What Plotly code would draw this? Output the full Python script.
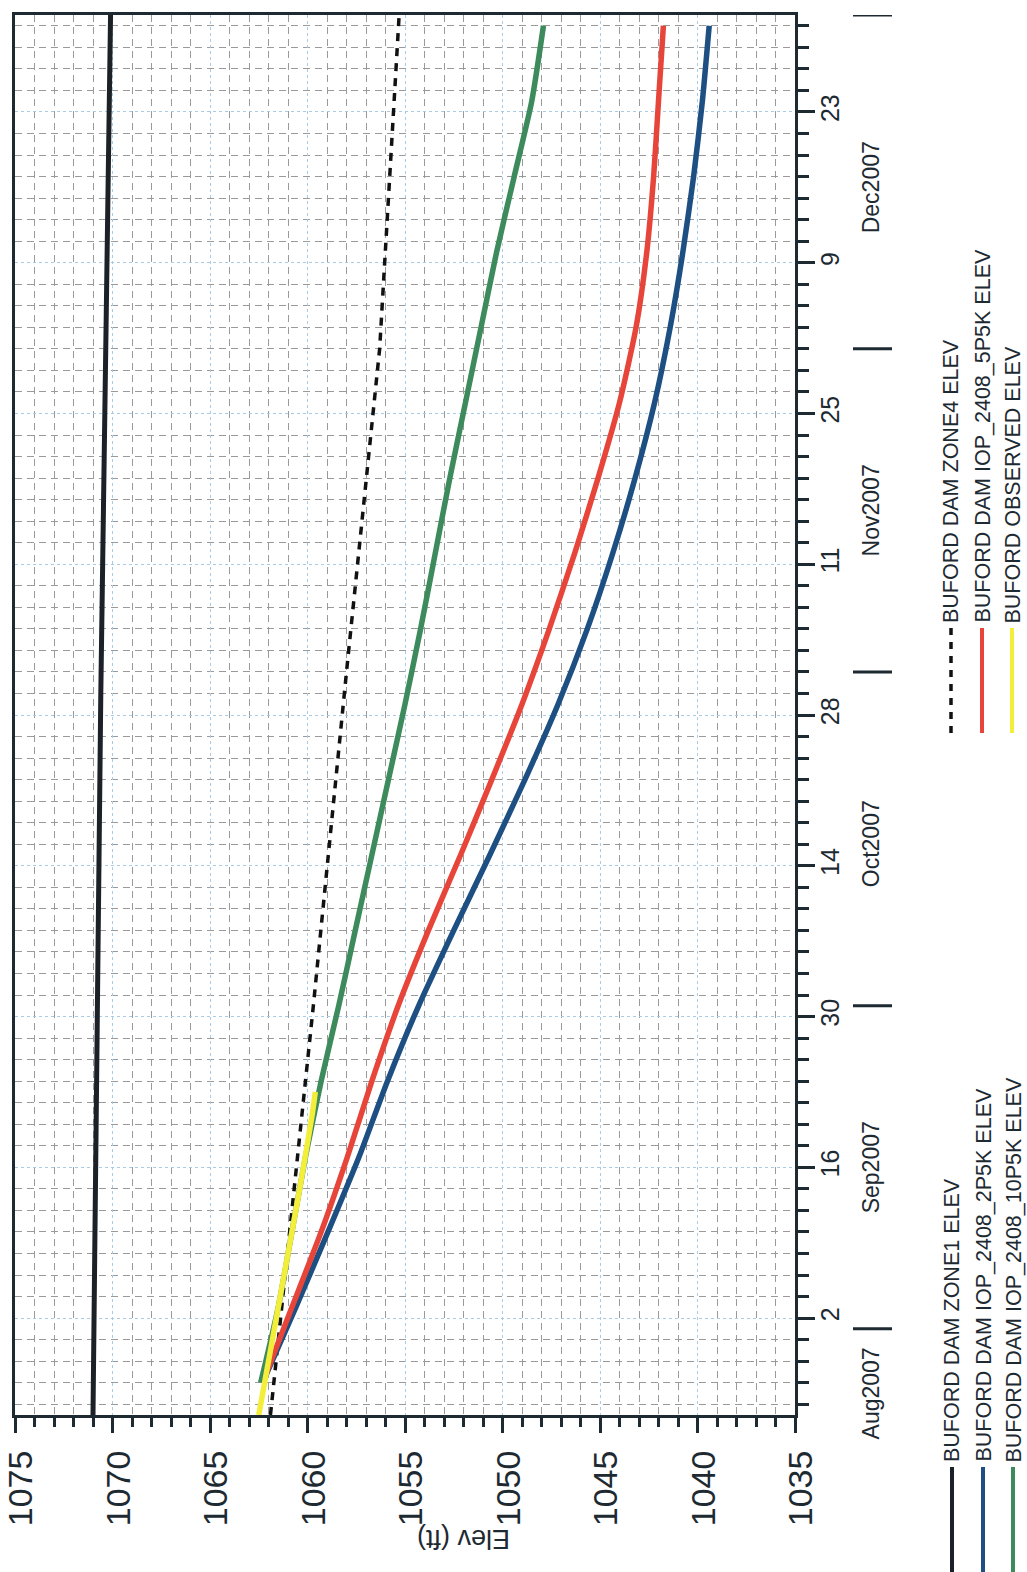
import plotly.graph_objects as go

# ---- Buford Dam pool elevation, Aug 2007 - Jan 2008 ----

# Weekly simulated elevations (ft) for the three IOP_2408 alternatives
sim_dates = [
    "2007-08-27", "2007-09-03", "2007-09-10", "2007-09-17", "2007-09-24",
    "2007-10-01", "2007-10-08", "2007-10-15", "2007-10-22", "2007-10-29",
    "2007-11-05", "2007-11-12", "2007-11-19", "2007-11-26", "2007-12-03",
    "2007-12-10", "2007-12-17", "2007-12-24", "2007-12-31",
]
elev_2p5k = [
    1062.3, 1060.6, 1058.95, 1057.35, 1055.9,
    1054.3, 1052.5, 1050.65, 1048.85, 1047.15,
    1045.65, 1044.35, 1043.2, 1042.2, 1041.4,
    1040.75, 1040.2, 1039.75, 1039.4,
]
elev_5p5k = [
    1062.3, 1060.8, 1059.3, 1057.95, 1056.7,
    1055.35, 1053.8, 1052.15, 1050.55, 1049.0,
    1047.6, 1046.3, 1045.1, 1044.0, 1043.15,
    1042.6, 1042.25, 1042.0, 1041.75,
]
elev_10p5k = [
    1062.4, 1061.5, 1060.8, 1060.1, 1059.3,
    1058.4, 1057.55, 1056.7, 1055.85, 1055.0,
    1054.2, 1053.45, 1052.7, 1051.9, 1051.1,
    1050.3, 1049.4, 1048.5, 1047.9,
]

# Guide curves
zone1_dates = ["2007-08-24", "2007-10-30", "2008-01-01"]
zone1_elev = [1071.0, 1070.6, 1070.1]

zone4_dates = ["2007-08-24", "2007-10-01", "2007-11-01", "2007-12-01", "2008-01-01"]
zone4_elev = [1061.9, 1059.7, 1058.0, 1056.3, 1055.3]

# Observed pool
obs_dates = ["2007-08-24", "2007-08-31", "2007-09-07", "2007-09-14", "2007-09-21", "2007-09-23"]
obs_elev = [1062.5, 1061.8, 1061.1, 1060.4, 1059.75, 1059.6]

# Axis labelling
elev_range = [1075, 1035]
date_range = ["2007-08-24", "2008-01-01"]
month_labels = ["Aug2007", "Sep2007", "Oct2007", "Nov2007", "Dec2007"]
month_label_dates = ["2007-08-26", "2007-09-16", "2007-10-16", "2007-11-16", "2007-12-16"]
month_breaks = ["2007-09-01", "2007-10-01", "2007-11-01", "2007-12-01", "2008-01-01"]

legend_left = [
    ("BUFORD DAM ZONE1 ELEV", "#1b2126", "solid"),
    ("BUFORD DAM IOP_2408_2P5K ELEV", "#1d4f82", "solid"),
    ("BUFORD DAM IOP_2408_10P5K ELEV", "#3d8a5c", "solid"),
]
legend_right = [
    ("BUFORD DAM ZONE4 ELEV", "#111111", "dash"),
    ("BUFORD DAM IOP_2408_5P5K ELEV", "#e8453a", "solid"),
    ("BUFORD OBSERVED ELEV", "#f3ee3a", "solid"),
]

FONT = "Arial, Liberation Sans, sans-serif"
INK = "#1e2a32"
W, H = 1027, 1572
ML, MR, MT, MB = 15, 232, 15, 157
PW, PH = W - ML - MR, H - MT - MB


def px(xp):
    return (xp - ML) / PW


def py(yp):
    return (H - MB - yp) / PH


fig = go.Figure()

fig.add_trace(go.Scatter(x=zone1_elev, y=zone1_dates, mode="lines",
                         line=dict(color="#1b2126", width=5)))
fig.add_trace(go.Scatter(x=zone4_elev, y=zone4_dates, mode="lines",
                         line=dict(color="#111111", width=3.5, dash="8px,7px")))
fig.add_trace(go.Scatter(x=elev_2p5k, y=sim_dates, mode="lines",
                         line=dict(color="#1d4f82", width=5.5, shape="spline", smoothing=0.6)))
fig.add_trace(go.Scatter(x=elev_5p5k, y=sim_dates, mode="lines",
                         line=dict(color="#e8453a", width=5.5, shape="spline", smoothing=0.6)))
fig.add_trace(go.Scatter(x=elev_10p5k, y=sim_dates, mode="lines",
                         line=dict(color="#3d8a5c", width=5.5, shape="spline", smoothing=0.6)))
fig.add_trace(go.Scatter(x=obs_elev, y=obs_dates, mode="lines",
                         line=dict(color="#f3ee3a", width=5.5, shape="spline", smoothing=0.6)))

DAY = 86400000

fig.update_xaxes(
    range=elev_range, tick0=1035, dtick=5, tickangle=-90, automargin=False,
    ticks="outside", ticklen=15, tickwidth=3, tickcolor=INK,
    ticklabelstandoff=4, ticklabelshift=-6, ticklabeloverflow="allow",
    tickfont=dict(family=FONT, size=34, color=INK),
    showline=True, linewidth=3, linecolor=INK, mirror=True,
    showgrid=True, gridcolor="#a9cbe6", gridwidth=1, griddash="dot",
    zeroline=False,
    minor=dict(dtick=1, ticks="outside", ticklen=9, tickwidth=3, tickcolor=INK,
               showgrid=True, gridcolor="#9a9a9a", gridwidth=1, griddash="7px,5px"),
)
fig.update_yaxes(
    type="date", side="right", range=date_range, automargin=False,
    tick0="2007-09-02", dtick=14 * DAY, tickformat="%-d", tickangle=-90,
    ticks="outside", ticklen=17, tickwidth=3, tickcolor=INK,
    ticklabelstandoff=-6, ticklabeloverflow="allow",
    tickfont=dict(family=FONT, size=25, color=INK),
    showline=True, linewidth=3, linecolor=INK, mirror=True,
    showgrid=True, gridcolor="#a9cbe6", gridwidth=1, griddash="dot",
    zeroline=False,
    minor=dict(tick0="2007-09-02", dtick=2 * DAY, ticks="outside", ticklen=11,
               tickwidth=3, tickcolor=INK,
               showgrid=True, gridcolor="#9a9a9a", gridwidth=1, griddash="7px,5px"),
)

shapes = []
annotations = []

# month separators and month/year labels beside the date axis
for d in month_breaks:
    shapes.append(dict(type="line", xref="paper", yref="y",
                       x0=px(853), x1=px(892), y0=d, y1=d,
                       line=dict(color=INK, width=3)))
for lab, d in zip(month_labels, month_label_dates):
    annotations.append(dict(text=lab, xref="paper", yref="y", x=px(871), y=d,
                            textangle=-90, showarrow=False, xanchor="center", yanchor="middle",
                            font=dict(family=FONT, size=23, color=INK)))

# axis title
annotations.append(dict(text="Elev (ft)", xref="paper", yref="paper", x=px(463), y=py(1539),
                        textangle=180, showarrow=False, xanchor="center", yanchor="middle",
                        font=dict(family=FONT, size=27, color=INK)))

# legend drawn beneath the date axis, rotated with the chart
def legend_column(entries, xs, line_top, line_bottom):
    for (name, color, dash), xc in zip(entries, xs):
        shapes.append(dict(type="line", xref="paper", yref="paper",
                           x0=px(xc), x1=px(xc), y0=py(line_top), y1=py(line_bottom),
                           line=dict(color=color, width=4 if dash == "solid" else 3.5,
                                     dash="7px,7px" if dash == "dash" else "solid")))
        annotations.append(dict(text=name, xref="paper", yref="paper",
                                x=px(xc), y=py(line_top - 3),
                                textangle=-90, showarrow=False,
                                xanchor="center", yanchor="bottom",
                                font=dict(family=FONT, size=21.5, color=INK)))


legend_column(legend_left, [952, 983, 1013], 1467, 1590)
legend_column(legend_right, [951, 982, 1012], 628, 733)

fig.update_layout(
    width=W, height=H,
    margin=dict(l=ML, r=MR, t=MT, b=MB),
    paper_bgcolor="white", plot_bgcolor="white",
    showlegend=False,
    shapes=shapes, annotations=annotations,
    font=dict(family=FONT, color=INK),
)

fig.write_html("out.html")
